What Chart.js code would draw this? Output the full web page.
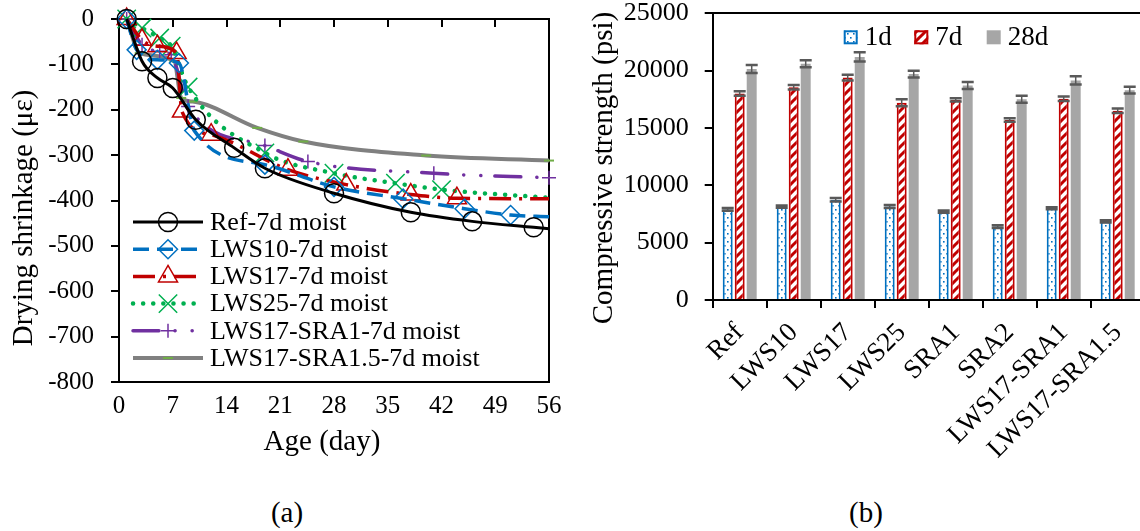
<!DOCTYPE html>
<html>
<head>
<meta charset="utf-8">
<script src="https://cdn.jsdelivr.net/npm/chart.js@4.4.0/dist/chart.umd.min.js"></script>
<style>
body{margin:0;width:1140px;height:531px;overflow:hidden;background:#fff;position:relative;font-family:"Liberation Serif","Times New Roman",serif;}
canvas{position:absolute;top:0;}
#chartA{left:0;}
#chartB{left:570px;}
.cap{position:absolute;top:495px;width:100px;text-align:center;font-size:29px;line-height:34px;color:#000;}
</style>
</head>
<body>
<canvas id="chartA" width="570" height="470"></canvas>
<canvas id="chartB" width="580" height="470"></canvas>
<div class="cap" style="left:237px">(a)</div>
<div class="cap" style="left:816px">(b)</div>
<script>
const serif = '"Liberation Serif", "Times New Roman", serif';
Chart.defaults.font.family = serif;
Chart.defaults.color = '#000';

// (a) drying shrinkage: age (day) and strain (microstrain)
const ageRef   = [1, 3, 5, 7, 10, 15, 19, 28, 38, 46, 54, 56];
const shrRef   = [0, -93, -130, -152, -222, -284, -329, -384, -426, -446, -459, -462];
const ageLWS10 = [1, 2.3, 5, 7.8, 9.8, 19, 28, 37, 45, 51, 56];
const shrLWS10 = [0, -68, -90, -97, -246, -321, -370, -396, -418, -432, -436];
const ageLWS17 = [1, 3, 5, 7.5, 8.2, 12, 22, 29.6, 38, 44, 56];
const shrLWS17 = [0, -46, -60, -75, -204, -255, -332, -365, -387, -395, -396];
const ageLWS25 = [1, 3, 5.3, 6.8, 9, 19, 28, 36, 42, 56];
const shrLWS25 = [0, -20, -42, -60, -150, -295, -340, -362, -376, -394];
const ageSRA1  = [1, 3, 5.3, 6.8, 9, 19, 24.6, 41, 56];
const shrSRA1  = [0, -57, -71, -79, -193, -279, -314, -340, -350];
const ageSRA15 = [1, 2.7, 7.2, 8.1, 9.6, 18, 24, 40, 56];
const shrSRA15 = [0, -75, -93, -174, -182, -240, -270, -301, -312];
const ageTicks = [0, 7, 14, 21, 28, 35, 42, 49, 56];
const shrTicks = [0, -100, -200, -300, -400, -500, -600, -700, -800];

// (b) compressive strength (psi)
const mixes  = ['Ref', 'LWS10', 'LWS17', 'LWS25', 'SRA1', 'SRA2', 'LWS17-SRA1', 'LWS17-SRA1.5'];
const fc1d   = [7900, 8150, 8750, 8150, 7700, 6400, 8000, 6850];
const fc7d   = [18000, 18550, 19400, 17200, 17450, 15700, 17550, 16500];
const fc28d  = [20150, 20600, 21200, 19700, 18700, 17500, 19150, 18300];
const err1d  = [120, 100, 150, 130, 100, 120, 80, 100];
const err7d  = [200, 200, 250, 300, 150, 150, 200, 200];
const err28d = [350, 300, 400, 300, 300, 300, 350, 300];
const fcTicks = [0, 5000, 10000, 15000, 20000, 25000];

function pts(xs, ys) {
  return xs.map((x, i) => ({x: x, y: ys[i]}));
}
function setTicks(list) {
  return s => { s.ticks = list.map(v => ({value: v})); };
}
// fixed axis size, and no extra room for overhanging labels
function fixSize(prop, val) {
  return s => {
    s[prop] = val;
    s.paddingTop = 0; s.paddingBottom = 0; s.paddingLeft = 0; s.paddingRight = 0;
  };
}

function marker(ctx, style, x, y, r) {
  ctx.beginPath();
  if (style === 'circle') {
    ctx.arc(x, y, r, 0, Math.PI * 2);
  } else if (style === 'rectRot') {
    ctx.moveTo(x, y - r); ctx.lineTo(x + r, y); ctx.lineTo(x, y + r); ctx.lineTo(x - r, y); ctx.closePath();
  } else if (style === 'triangle') {
    ctx.moveTo(x, y - r);
    ctx.lineTo(x + r * Math.sin(Math.PI * 2 / 3), y - r * Math.cos(Math.PI * 2 / 3));
    ctx.lineTo(x - r * Math.sin(Math.PI * 2 / 3), y - r * Math.cos(Math.PI * 2 / 3));
    ctx.closePath();
  } else if (style === 'crossRot') {
    const d = r * Math.SQRT1_2;
    ctx.moveTo(x - d, y - d); ctx.lineTo(x + d, y + d);
    ctx.moveTo(x + d, y - d); ctx.lineTo(x - d, y + d);
  } else if (style === 'cross') {
    ctx.moveTo(x - r, y); ctx.lineTo(x + r, y);
    ctx.moveTo(x, y - r); ctx.lineTo(x, y + r);
  } else if (style === 'line') {
    ctx.moveTo(x - r, y); ctx.lineTo(x + r, y);
  }
  ctx.stroke();
}

// rotated / plain axis titles
const axisTitles = {
  id: 'axisTitles',
  afterDraw(chart, args, opts) {
    const ctx = chart.ctx;
    ctx.save();
    ctx.fillStyle = '#000';
    ctx.font = '29px ' + serif;
    ctx.textAlign = 'center';
    ctx.textBaseline = 'middle';
    opts.items.forEach(t => {
      ctx.save();
      ctx.translate(t.x, t.y);
      ctx.rotate(t.rot || 0);
      ctx.fillText(t.text, 0, 0);
      ctx.restore();
    });
    ctx.restore();
  }
};

// legend inside plot (a): line sample + marker + text
const lineLegend = {
  id: 'lineLegend',
  afterDraw(chart) {
    const ctx = chart.ctx;
    const a = chart.chartArea;
    const x0 = a.left + 14, x1 = a.left + 84;
    chart.data.datasets.forEach((ds, i) => {
      const y = a.top + 203 + i * 27.2;
      ctx.save();
      ctx.strokeStyle = ds.borderColor;
      ctx.lineWidth = ds.borderWidth;
      ctx.lineCap = ds.borderCapStyle || 'butt';
      ctx.setLineDash(ds.borderDash || []);
      ctx.beginPath(); ctx.moveTo(x0, y); ctx.lineTo(x1, y); ctx.stroke();
      ctx.setLineDash([]);
      ctx.lineCap = 'butt';
      ctx.strokeStyle = ds.pointBorderColor;
      ctx.lineWidth = ds.pointBorderWidth;
      marker(ctx, ds.pointStyle, (x0 + x1) / 2, y, ds.mark);
      ctx.fillStyle = '#000';
      ctx.font = '26px ' + serif;
      ctx.textBaseline = 'middle';
      ctx.textAlign = 'left';
      ctx.fillText(ds.label, a.left + 91, y + 1);
      ctx.restore();
    });
  }
};

function lineSet(label, xs, ys, style) {
  return Object.assign({
    label: label,
    data: pts(xs, ys),
    fill: false,
    clip: false,
    cubicInterpolationMode: 'monotone',
    pointBackgroundColor: 'rgba(0,0,0,0)',
    endMark: false
  }, style);
}

const dataA = {
  datasets: [
    lineSet('Ref-7d moist', ageRef, shrRef, {borderColor: '#000000', borderWidth: 3,
      pointStyle: 'circle', mark: 9.5, pointBorderColor: '#000000', pointBorderWidth: 1.5}),
    lineSet('LWS10-7d moist', ageLWS10, shrLWS10, {borderColor: '#0070C0', borderWidth: 3.5, borderDash: [16, 8],
      pointStyle: 'rectRot', mark: 9.5, pointBorderColor: '#0070C0', pointBorderWidth: 1.5}),
    lineSet('LWS17-7d moist', ageLWS17, shrLWS17, {borderColor: '#C00000', borderWidth: 3.5, borderDash: [22, 8, 3, 8],
      pointStyle: 'triangle', mark: 11, pointBorderColor: '#C00000', pointBorderWidth: 1.5}),
    lineSet('LWS25-7d moist', ageLWS25, shrLWS25, {borderColor: '#00B050', borderWidth: 4.5, borderDash: [0.1, 10],
      borderCapStyle: 'round', pointStyle: 'crossRot', mark: 13, pointBorderColor: '#00B050', pointBorderWidth: 1.5}),
    lineSet('LWS17-SRA1-7d moist', ageSRA1, shrSRA1, {borderColor: '#7030A0', borderWidth: 3.5,
      borderDash: [26, 16, 0.1, 17, 0.1, 14], borderCapStyle: 'round',
      pointStyle: 'cross', mark: 7, pointBorderColor: '#7030A0', pointBorderWidth: 1.5, endMark: true}),
    lineSet('LWS17-SRA1.5-7d moist', ageSRA15, shrSRA15, {borderColor: '#808080', borderWidth: 4,
      pointStyle: 'line', mark: 5, pointBorderColor: '#70AD47', pointBorderWidth: 2, endMark: true})
  ]
};

const configA = {
  type: 'line',
  data: dataA,
  options: {
    responsive: false,
    animation: false,
    devicePixelRatio: 1,
    events: [],
    layout: {padding: {left: 0, right: 21, top: 19, bottom: 0}},
    elements: {
      point: {
        radius: c => (c.dataIndex === c.dataset.data.length - 1 && !c.dataset.endMark) ? 0 : c.dataset.mark
      }
    },
    plugins: {
      legend: {display: false},
      tooltip: {enabled: false},
      axisTitles: {items: [
        {text: 'Age (day)', x: 322, y: 442},
        {text: 'Drying shrinkage (\u03bc\u03b5)', x: 24, y: 218, rot: -Math.PI / 2}
      ]}
    },
    scales: {
      x: {
        type: 'linear', position: 'bottom', min: 0, max: 56,
        afterBuildTicks: setTicks(ageTicks),
        ticks: {font: {size: 25}, padding: 9},
        grid: {display: false, drawTicks: false},
        border: {display: true, color: '#000', width: 2},
        afterFit: fixSize('height', 88)
      },
      xTop: {
        type: 'linear', position: 'top', min: 0, max: 56,
        afterBuildTicks: setTicks(ageTicks),
        ticks: {display: false},
        grid: {drawOnChartArea: false, tickLength: -8, color: '#000', lineWidth: 2},
        border: {display: true, color: '#000', width: 2},
        afterFit: fixSize('height', 0)
      },
      y: {
        type: 'linear', min: -800, max: 0,
        afterBuildTicks: setTicks(shrTicks),
        ticks: {font: {size: 25}, padding: 17, callback: v => String(v)},
        grid: {drawOnChartArea: false, tickLength: 8, color: '#000', lineWidth: 2},
        border: {display: true, color: '#000', width: 2},
        afterFit: fixSize('width', 119)
      },
      yRight: {
        type: 'linear', position: 'right', min: -800, max: 0,
        ticks: {display: false},
        grid: {display: false, drawTicks: false},
        border: {display: true, color: '#000', width: 2},
        afterFit: fixSize('width', 0)
      }
    }
  },
  plugins: [axisTitles, lineLegend]
};

const myChartA = new Chart(document.getElementById('chartA'), configA);

// ---- (b) ----
const canvasB = document.getElementById('chartB');
const ctxB = canvasB.getContext('2d');

function tile(w, h, draw) {
  const c = document.createElement('canvas');
  c.width = w; c.height = h;
  const g = c.getContext('2d');
  g.fillStyle = '#fff';
  g.fillRect(0, 0, w, h);
  draw(g);
  return ctxB.createPattern(c, 'repeat');
}
const dots = tile(6, 8, g => {
  g.fillStyle = '#0070C0';
  g.fillRect(1, 1, 1.6, 1.6);
  g.fillRect(4, 5, 1.6, 1.6);
});
const stripes = tile(9, 9, g => {
  g.strokeStyle = '#C00000';
  g.lineWidth = 3;
  g.beginPath();
  g.moveTo(-1, 10); g.lineTo(10, -1);
  g.moveTo(-1, 1); g.lineTo(1, -1);
  g.moveTo(8, 10); g.lineTo(10, 8);
  g.stroke();
});

const errorBars = {
  id: 'errorBars',
  afterDatasetsDraw(chart) {
    const ctx = chart.ctx;
    const yScale = chart.scales.y;
    ctx.save();
    ctx.strokeStyle = '#595959';
    chart.data.datasets.forEach((ds, i) => {
      const meta = chart.getDatasetMeta(i);
      meta.data.forEach((bar, j) => {
        const v = ds.data[j], e = ds.errors[j];
        const yt = yScale.getPixelForValue(v + e);
        const yb = yScale.getPixelForValue(v - e);
        ctx.lineWidth = 1.5;
        ctx.beginPath(); ctx.moveTo(bar.x, yt); ctx.lineTo(bar.x, yb); ctx.stroke();
        ctx.lineWidth = 2.5;
        ctx.beginPath();
        ctx.moveTo(bar.x - 6, yt); ctx.lineTo(bar.x + 6, yt);
        ctx.moveTo(bar.x - 6, yb); ctx.lineTo(bar.x + 6, yb);
        ctx.stroke();
      });
    });
    ctx.restore();
  }
};

const barLegend = {
  id: 'barLegend',
  afterDraw(chart) {
    const ctx = chart.ctx;
    const a = chart.chartArea;
    const offs = [131, 201.6, 274];
    chart.data.datasets.forEach((ds, i) => {
      const x = a.left + offs[i], y = a.top + 17;
      ctx.save();
      ctx.fillStyle = ds.backgroundColor;
      ctx.fillRect(x, y, 14, 14);
      if (ds.borderWidth) {
        ctx.strokeStyle = ds.borderColor;
        ctx.lineWidth = 2;
        ctx.strokeRect(x + 1, y + 1, 12, 12);
      }
      ctx.fillStyle = '#000';
      ctx.font = '27px ' + serif;
      ctx.textBaseline = 'middle';
      ctx.fillText(ds.label, x + 21, y + 8);
      ctx.restore();
    });
  }
};

const dataB = {
  labels: mixes,
  datasets: [
    {label: '1d', data: fc1d, errors: err1d, backgroundColor: dots, borderColor: '#0070C0', borderWidth: 2},
    {label: '7d', data: fc7d, errors: err7d, backgroundColor: stripes, borderColor: '#C00000', borderWidth: 2},
    {label: '28d', data: fc28d, errors: err28d, backgroundColor: '#A6A6A6', borderWidth: 0}
  ]
};

const configB = {
  type: 'bar',
  data: dataB,
  options: {
    responsive: false,
    animation: false,
    devicePixelRatio: 1,
    events: [],
    categoryPercentage: 0.667,
    barPercentage: 0.83,
    layout: {padding: {left: 0, right: 5.3, top: 13.3, bottom: 0}},
    plugins: {
      legend: {display: false},
      tooltip: {enabled: false},
      axisTitles: {items: [
        {text: 'Compressive strength (psi)', x: 34, y: 168, rot: -Math.PI / 2}
      ]}
    },
    scales: {
      x: {
        offset: true,
        ticks: {font: {size: 27}, minRotation: 45, maxRotation: 45, autoSkip: false, padding: 9},
        grid: {offset: true, drawOnChartArea: false, tickLength: 8, color: '#000', lineWidth: 2},
        border: {display: true, color: '#000', width: 2},
        afterFit: fixSize('height', 170)
      },
      xTop: {
        type: 'category', position: 'top',
        ticks: {display: false},
        grid: {display: false, drawTicks: false},
        border: {display: true, color: '#000', width: 2},
        afterFit: fixSize('height', 0)
      },
      y: {
        min: 0, max: 25000,
        afterBuildTicks: setTicks(fcTicks),
        ticks: {font: {size: 26}, padding: 16, callback: v => String(v)},
        grid: {drawOnChartArea: false, tickLength: 8, color: '#000', lineWidth: 2},
        border: {display: true, color: '#000', width: 2},
        afterFit: fixSize('width', 142.7)
      }
    }
  },
  plugins: [axisTitles, errorBars, barLegend]
};

const myChartB = new Chart(canvasB, configB);
</script>
</body>
</html>
